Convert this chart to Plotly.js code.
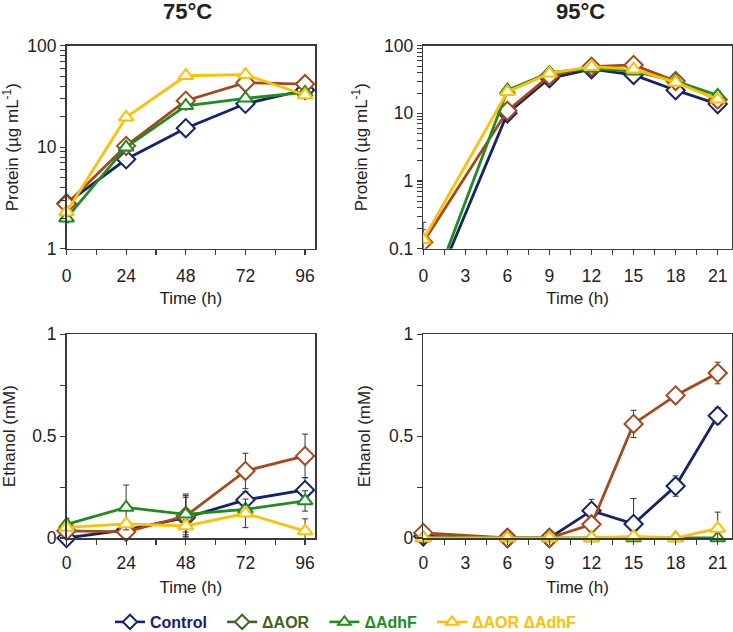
<!DOCTYPE html>
<html>
<head>
<meta charset="utf-8">
<script src="https://cdn.plot.ly/plotly-3.0.1.min.js"></script>
<style>html,body{margin:0;padding:0;background:#fff;}#chart{width:733px;height:632px;}</style>
</head>
<body>
<div id="chart"></div>
<script>
// ---- data ----
const seriesNames = ['Control', 'ΔAOR', 'ΔAdhF', 'ΔAOR ΔAdhF'];
const time75 = [0, 24, 48, 72, 96];
const time95 = [0, 6, 9, 12, 15, 18, 21];

// Protein (µg/mL), 75 °C
const ctrl75P = [2.8, 7.6, 15.4, 26.8, 36.6];
const aor75P  = [2.75, 10.3, 28.7, 43.2, 41.9];
const adhf75P = [2.0, 10.0, 25.6, 30.3, 34.7];
const dbl75P  = [2.3, 19.7, 50.6, 51.8, 32.7];
const ctrl75PErr = [0.4, 0.8, 0.6, 1.2, 2.0];
const aor75PErr  = [0.3, 1.5, 1.0, 1.0, 2.0];
const adhf75PErr = [0.2, 0.8, 1.0, 1.0, 1.0];
const dbl75PErr  = [0.2, 1.0, 1.0, 1.0, 1.0];

// Protein (µg/mL), 95 °C
const ctrl95P = [0.0107, 10.0, 33, 45, 37, 22, 13.7];
const aor95P  = [0.125, 10.9, 36, 49, 52, 30, 16];
const adhf95P = [0.011, 22, 40, 46, 42, 30, 18.5];
const dbl95P  = [0.136, 20.8, 39, 49, 45, 28.7, 16.1];
const ctrl95PErr = [null, 1.0, 2, 2, 2, 2, 1.5];
const aor95PErr  = [0.065, 1.0, 2, 2, 2, 2, 1.5];
const adhf95PErr = [null, 1.5, 2, 2, 2, 2, 3];
const dbl95PErr  = [0.11, 1.5, 2, 2, 2, 2, 1.5];

// Ethanol (mM), 75 °C
const ctrl75E = [0.0, 0.04, 0.10, 0.187, 0.236];
const aor75E  = [0.035, 0.03, 0.108, 0.329, 0.403];
const adhf75E = [0.067, 0.15, 0.116, 0.141, 0.182];
const dbl75E  = [0.052, 0.069, 0.059, 0.121, 0.034];
const ctrl75EErr = [null, 0.01, 0.10, 0.04, 0.06];
const aor75EErr  = [0.01, 0.01, 0.10, 0.087, 0.107];
const adhf75EErr = [0.03, 0.11, 0.10, 0.02, 0.05];
const dbl75EErr  = [0.01, 0.01, 0.03, 0.07, 0.06];

// Ethanol (mM), 95 °C
const ctrl95E = [0.008, 0, 0, 0.134, 0.069, 0.255, 0.60];
const aor95E  = [0.025, 0, 0, 0.067, 0.56, 0.70, 0.81];
const adhf95E = [0, 0, 0, 0, 0, 0, 0];
const dbl95E  = [0, 0, 0, 0, 0.008, 0, 0.047];
const ctrl95EErr = [null, null, null, 0.056, 0.125, 0.05, 0.04];
const aor95EErr  = [null, null, null, null, 0.067, null, 0.053];
const adhf95EErr = [null, null, null, null, null, null, null];
const dbl95EErr  = [null, null, null, null, null, null, 0.08];

// ---- styles ----
const lineColors   = ['#14236b', '#a5481c', '#1f8c1f', '#ffc000'];
const legendColors = ['#14236b', '#3f6321', '#1f8c1f', '#ffc000'];
const symbols = ['diamond', 'diamond', 'triangle-up', 'triangle-up'];
const sizes = [14, 14, 13, 13];
const FONT = '"Liberation Sans", Arial, sans-serif';
const AX = '#3a3a3a';
const TICKF = 17.5, TITLEF = 17;

function mk(i, x, y, err, xa, ya, clip) {
  return {
    type: 'scatter', mode: 'lines+markers', x: x, y: y,
    xaxis: xa, yaxis: ya, showlegend: false, cliponaxis: clip,
    line: {color: lineColors[i], width: 2.8},
    marker: {symbol: symbols[i], size: sizes[i], color: '#ffffff',
             line: {color: lineColors[i], width: 2}},
    error_y: {type: 'data', array: err, visible: true, color: '#333333',
              thickness: 1, width: 3}
  };
}

const traces = [];
const sets = [
  {x: time75, ys: [ctrl75P, aor75P, adhf75P, dbl75P], es: [ctrl75PErr, aor75PErr, adhf75PErr, dbl75PErr], xa: 'x', ya: 'y', clip: false},
  {x: time95, ys: [ctrl95P, aor95P, adhf95P, dbl95P], es: [ctrl95PErr, aor95PErr, adhf95PErr, dbl95PErr], xa: 'x2', ya: 'y2', clip: true},
  {x: time75, ys: [ctrl75E, aor75E, adhf75E, dbl75E], es: [ctrl75EErr, aor75EErr, adhf75EErr, dbl75EErr], xa: 'x3', ya: 'y3', clip: false},
  {x: time95, ys: [ctrl95E, aor95E, adhf95E, dbl95E], es: [ctrl95EErr, aor95EErr, adhf95EErr, dbl95EErr], xa: 'x4', ya: 'y4', clip: false}
];
sets.forEach(s => { for (let i = 0; i < 4; i++) traces.push(mk(i, s.x, s.ys[i], s.es[i], s.xa, s.ya, s.clip)); });

// legend entries
const pad = '\u00A0\u00A0\u200A';
for (let i = 0; i < 4; i++) {
  traces.push({
    type: 'scatter', mode: 'lines+markers', x: [null], y: [null], xaxis: 'x', yaxis: 'y',
    name: '<span style="color:' + legendColors[i] + '"><b>' + seriesNames[i] + '</b></span>' + (i < 3 ? pad : ''),
    showlegend: true,
    line: {color: legendColors[i], width: 2.6},
    marker: {symbol: symbols[i], size: 11, color: '#ffffff', line: {color: legendColors[i], width: 2}}
  });
}

function xax(domain, range, tv, minor, lblStandoff, standoff) {
  return {
    domain: domain, range: range, tickvals: tv, ticktext: tv.map(String),
    ticks: 'outside', ticklen: 5, tickwidth: 1.2, tickcolor: AX, ticklabelstandoff: lblStandoff,
    showline: true, linecolor: AX, linewidth: 1.5, mirror: true,
    showgrid: false, zeroline: false,
    tickfont: {size: TICKF, color: '#222', family: FONT},
    minor: {tickvals: minor, ticks: 'outside', ticklen: 5, tickwidth: 1.2, tickcolor: AX},
    title: {text: 'Time (h)', font: {size: TITLEF, color: '#222', family: FONT}, standoff: standoff}
  };
}
function logMinor(lo, hi) {
  const out = [];
  for (let d = lo; d < hi; d++) for (let k = 2; k <= 9; k++) out.push(k * Math.pow(10, d));
  return out;
}

const topDom = [1 - 248.7 / 632, 1 - 45.7 / 632];
const botDom = [1 - 538 / 632, 1 - 334.3 / 632];
const leftDom = [66.5 / 733, 315 / 733];
const rightDom = [423.3 / 733, 731.7 / 733];
const tv75 = [0, 24, 48, 72, 96], mn75 = [12, 36, 60, 84];
const tv95 = [0, 3, 6, 9, 12, 15, 18, 21], mn95 = [1.5, 4.5, 7.5, 10.5, 13.5, 16.5, 19.5];

function yax(domain, anchor, extra, title, standoff) {
  return Object.assign({
    domain: domain, anchor: anchor,
    ticks: 'outside', ticklen: 5, tickwidth: 1.2, tickcolor: AX,
    showline: true, linecolor: AX, linewidth: 1.5, mirror: true, showgrid: false, zeroline: false,
    tickfont: {size: TICKF, color: '#222', family: FONT},
    title: {text: title, font: {size: TITLEF, color: '#222', family: FONT}, standoff: standoff}
  }, extra);
}

const layout = {
  width: 733, height: 632,
  margin: {l: 0, r: 0, t: 0, b: 0, autoexpand: false},
  paper_bgcolor: '#fff', plot_bgcolor: '#fff',
  font: {family: FONT, color: '#222'},
  showlegend: true,
  legend: {orientation: 'h', x: 110 / 733, xanchor: 'left', y: 1 - 622 / 632, yanchor: 'middle',
           font: {size: 16, family: FONT}, bgcolor: 'rgba(0,0,0,0)', itemwidth: 30},
  xaxis: Object.assign(xax(leftDom, [0, 100], tv75, mn75, 6, 7), {anchor: 'y'}),
  xaxis2: Object.assign(xax(rightDom, [0, 22], tv95, mn95, 6, 7), {anchor: 'y2'}),
  xaxis3: Object.assign(xax(leftDom, [0, 100], tv75, mn75, 3, 9), {anchor: 'y3'}),
  xaxis4: Object.assign(xax(rightDom, [0, 22], tv95, mn95, 3, 9), {anchor: 'y4'}),
  yaxis: yax(topDom, 'x', {type: 'log', range: [0, 2], tickvals: [1, 10, 100], ticktext: ['1', '10', '100'],
    minor: {tickvals: logMinor(0, 2), ticks: 'outside', ticklen: 5, tickwidth: 1, tickcolor: AX}}, 'Protein (µg mL<sup>-1</sup>)', 10),
  yaxis2: yax(topDom, 'x2', {type: 'log', range: [-1, 2], tickvals: [0.1, 1, 10, 100], ticktext: ['0.1', '1', '10', '100'],
    minor: {tickvals: logMinor(-1, 2), ticks: 'outside', ticklen: 5, tickwidth: 1, tickcolor: AX}}, 'Protein (µg mL<sup>-1</sup>)', 12),
  yaxis3: yax(botDom, 'x3', {range: [0, 1], tickvals: [0, 0.5, 1], ticktext: ['0', '0.5', '1'],
    minor: {tickvals: [0.25, 0.75], ticks: 'outside', ticklen: 5, tickwidth: 1, tickcolor: AX}}, 'Ethanol (mM)', 15),
  yaxis4: yax(botDom, 'x4', {range: [0, 1], tickvals: [0, 0.5, 1], ticktext: ['0', '0.5', '1'],
    minor: {tickvals: [0.25, 0.75], ticks: 'outside', ticklen: 5, tickwidth: 1, tickcolor: AX}}, 'Ethanol (mM)', 14),
  annotations: [
    {text: '<b>75°C</b>', xref: 'paper', yref: 'paper', x: 187 / 733, y: 1 - 12 / 632,
     xanchor: 'center', yanchor: 'middle', showarrow: false, font: {size: 22, color: '#222', family: FONT}},
    {text: '<b>95°C</b>', xref: 'paper', yref: 'paper', x: 580 / 733, y: 1 - 12 / 632,
     xanchor: 'center', yanchor: 'middle', showarrow: false, font: {size: 22, color: '#222', family: FONT}}
  ]
};

Plotly.newPlot('chart', traces, layout, {displayModeBar: false, staticPlot: true});
</script>
</body>
</html>
